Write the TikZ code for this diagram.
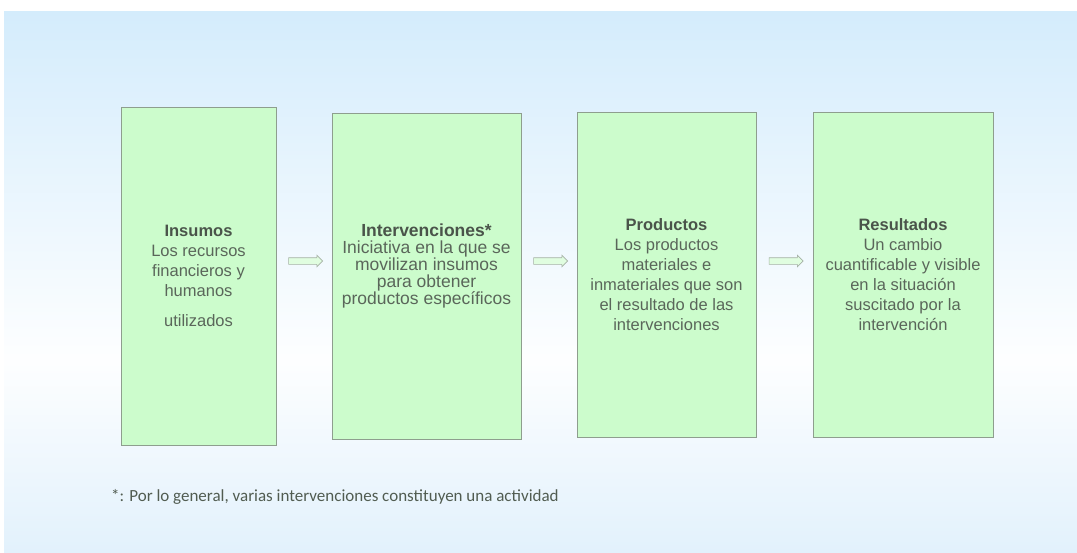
\documentclass[tikz,border=0pt]{standalone}
\usepackage{fontspec}
\setmainfont{Liberation Sans}
\newfontfamily\notefont{Carlito}
\usetikzlibrary{shapes.arrows}

\definecolor{boxfill}{HTML}{CCFCCC}
\definecolor{boxline}{HTML}{8E9E8E}
\definecolor{boxtext}{HTML}{5A665A}
\definecolor{titletext}{HTML}{4A544A}
\definecolor{bgtop}{HTML}{D4ECFC}
\definecolor{bgbottom}{HTML}{E2F1FC}

\tikzset{
  stage/.style={draw=boxline, fill=boxfill, line width=0.9pt, align=center,
    text=boxtext, font=\fontsize{16.5}{20}\selectfont, inner sep=0pt},
  blockarrow/.style={single arrow, draw=boxline!80, fill=boxfill!60!white,
    line width=0.6pt, minimum height=34pt, inner xsep=0pt, inner ysep=3pt,
    single arrow head extend=2.5pt, single arrow tip angle=90},
}

\begin{document}
\begin{tikzpicture}[x=1pt, y=-1pt]
    \useasboundingbox (0,0) rectangle (1077,552);

    % background
    \fill[white] (0,0) rectangle (1077,552);
    \shade[top color=bgtop, bottom color=white!96!bgtop] (4,11) rectangle (1077,360);
    \shade[top color=white!96!bgtop, bottom color=bgbottom] (4,360) rectangle (1077,552);

    % nodes (stages)
    \node[stage, minimum width=155pt, minimum height=338pt] (ins) at (198.5,276)
      {{\bfseries\color{titletext}Insumos}\\Los recursos\\financieros y\\humanos\\[10pt]utilizados};
    \node[stage, minimum width=189pt, minimum height=326pt, font=\fontsize{17.5}{17}\selectfont] (int) at (426.5,276)
      {{\bfseries\color{titletext}Intervenciones*}\\Iniciativa en la que se\\movilizan insumos\\para obtener\\productos específicos\\[7pt]};
    \node[stage, minimum width=179pt, minimum height=325pt] (pro) at (666.5,274.5)
      {{\bfseries\color{titletext}Productos}\\Los productos\\materiales e\\inmateriales que son\\el resultado de las\\intervenciones};
    \node[stage, minimum width=180pt, minimum height=325pt] (res) at (903,274.5)
      {{\bfseries\color{titletext}Resultados}\\Un cambio\\cuantificable y visible\\en la situación\\suscitado por la\\intervención};

    % note
    \node[anchor=west, text=boxtext!90!black, font=\notefont\fontsize{17}{20}\selectfont, inner sep=0pt] (note) at (111,497)
      {*: Por lo general, varias intervenciones constituyen una actividad};

    % edges
    \path (ins.east |- 0,261) -- (int.west |- 0,261) node[midway, blockarrow] (a1) {}; % ins -> int
    \path (int.east |- 0,261) -- (pro.west |- 0,261) node[midway, blockarrow] (a2) {}; % int -> pro
    \path (pro.east |- 0,261) -- (res.west |- 0,261) node[midway, blockarrow] (a3) {}; % pro -> res

\end{tikzpicture}
\end{document}
